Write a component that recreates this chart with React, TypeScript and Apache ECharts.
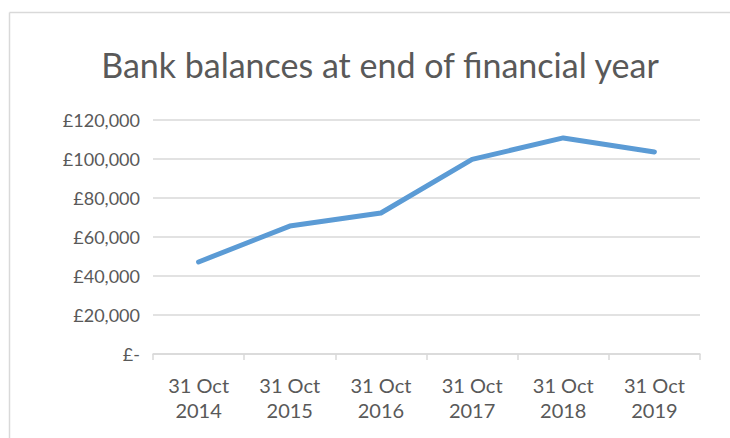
import React, { useEffect, useRef } from "react";
import * as echarts from "echarts";

const categories = ["31 Oct\n2014", "31 Oct\n2015", "31 Oct\n2016", "31 Oct\n2017", "31 Oct\n2018", "31 Oct\n2019"];
const balances = [47200, 65600, 72300, 99800, 110800, 103600];
const titleText = "Bank balances at end of financial year";

const FONT = "Lato, 'Open Sans', sans-serif";
const TEXT = "#595959";

export default function App() {
  const ref = useRef<HTMLDivElement>(null);
  useEffect(() => {
    const chart = echarts.init(ref.current!, null, { renderer: "svg" });
    chart.setOption({
      animation: false,
      backgroundColor: "#ffffff",
      title: {
        text: titleText,
        left: 375,
        textAlign: "center",
        top: 42,
        textStyle: { fontFamily: FONT, fontSize: 34, fontWeight: "normal", color: TEXT },
      },
      graphic: [
        { type: "line", shape: { x1: 9.5, y1: 12.5, x2: 730, y2: 12.5 }, style: { stroke: "#d9d9d9", lineWidth: 1.5 } },
        { type: "line", shape: { x1: 9.5, y1: 12.5, x2: 9.5, y2: 438 }, style: { stroke: "#d9d9d9", lineWidth: 1.5 } },
      ],
      grid: { left: 153, right: 30, top: 120, bottom: 84, containLabel: false },
      xAxis: {
        type: "category",
        data: categories,
        boundaryGap: true,
        axisLine: { lineStyle: { color: "#d9d9d9", width: 1.5 } },
        axisTick: { show: true, length: 6, lineStyle: { color: "#d9d9d9", width: 1.5 } },
        axisLabel: { fontFamily: FONT, fontSize: 20, color: TEXT, lineHeight: 25, margin: 18, interval: 0 },
      },
      yAxis: {
        type: "value",
        min: 0,
        max: 120000,
        interval: 20000,
        axisLine: { show: false },
        axisTick: { show: false },
        splitLine: { lineStyle: { color: "#d9d9d9", width: 1.5 } },
        axisLabel: {
          fontFamily: FONT,
          fontSize: 18,
          color: TEXT,
          margin: 13,
          formatter: (v: number) => (v === 0 ? "£-" : "£" + v.toLocaleString("en-GB")),
        },
      },
      series: [
        {
          type: "line",
          data: balances,
          showSymbol: false,
          symbol: "none",
          lineStyle: { color: "#5b9bd5", width: 5, cap: "round", join: "round" },
        },
      ],
    });
    return () => chart.dispose();
  }, []);
  return <div ref={ref} style={{ position: "fixed", left: 0, top: 0, width: 730, height: 438 }} />;
}
